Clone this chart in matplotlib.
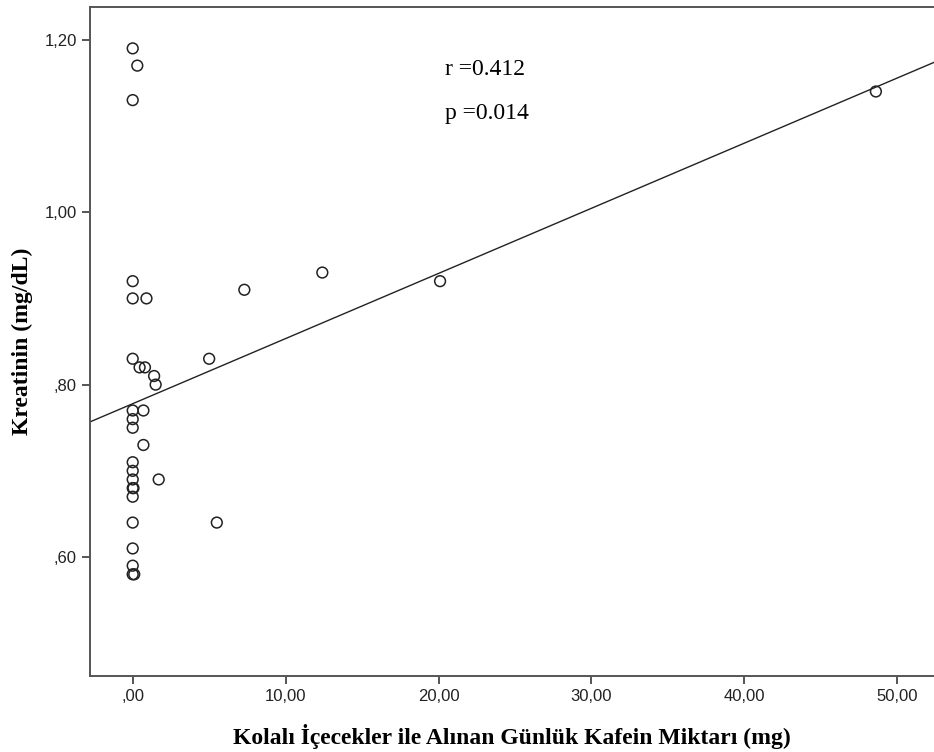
import numpy as np
import matplotlib.pyplot as plt

# Daily caffeine from cola drinks (mg) vs creatinine (mg/dL)
kafein = [0.0, 0.3, 0.0, 0.0, 0.0, 0.9, 0.0, 0.45, 0.8, 1.4, 1.5, 5.0,
          0.0, 0.7, 0.0, 0.0, 0.7, 0.0, 0.0, 0.0, 0.0, 0.05, 0.0, 1.7,
          0.0, 5.5, 0.0, 0.0, 0.0, 0.1, 7.3, 12.4, 20.1, 48.6]
kreatinin = [1.19, 1.17, 1.13, 0.92, 0.90, 0.90, 0.83, 0.82, 0.82, 0.81, 0.80, 0.83,
             0.77, 0.77, 0.76, 0.75, 0.73, 0.71, 0.70, 0.69, 0.68, 0.68, 0.67, 0.69,
             0.64, 0.64, 0.61, 0.59, 0.58, 0.58, 0.91, 0.93, 0.92, 1.14]

x_ticks = [0, 10, 20, 30, 40, 50]
x_labels = [',00', '10,00', '20,00', '30,00', '40,00', '50,00']
y_ticks = [0.6, 0.8, 1.0, 1.2]
y_labels = [',60', ',80', '1,00', '1,20']

fig = plt.figure(figsize=(9.34, 7.52), dpi=100)
ax = fig.add_axes([0.0964, 0.101, 0.9036, 0.8897])

ax.scatter(kafein, kreatinin, s=60, facecolors='none', edgecolors='#222222', linewidths=1.1, zorder=3)

# linear fit line
b, a = np.polyfit(kafein, kreatinin, 1)
xs = np.array([-3, 53])
ax.plot(xs, a + b * xs, color='#222222', lw=1.0)

ax.set_xlim(-2.79, 52.4)
ax.set_ylim(0.462, 1.238)
ax.set_xticks(x_ticks)
ax.set_xticklabels(x_labels)
ax.set_yticks(y_ticks)
ax.set_yticklabels(y_labels)

for s in ax.spines.values():
    s.set_color('#555555')
    s.set_linewidth(1.4)
ax.spines['right'].set_visible(False)
ax.tick_params(direction='out', length=6, width=1.4, color='#555555',
               labelsize=12, labelcolor='#222222')
for lab in ax.get_xticklabels() + ax.get_yticklabels():
    lab.set_family('Liberation Sans')

ax.set_xlabel('Kolalı İçecekler ile Alınan Günlük Kafein Miktarı (mg)',
              family='Liberation Serif', fontweight='bold', fontsize=17, labelpad=14)
ax.set_ylabel('Kreatinin (mg/dL)', family='Liberation Serif', fontweight='bold',
              fontsize=17, labelpad=8)

ax.text(20.4, 1.165, 'r =0.412', family='Liberation Serif', fontsize=17, va='center')
ax.text(20.4, 1.1145, 'p =0.014', family='Liberation Serif', fontsize=17, va='center')

fig.savefig('out.png', dpi=100)
